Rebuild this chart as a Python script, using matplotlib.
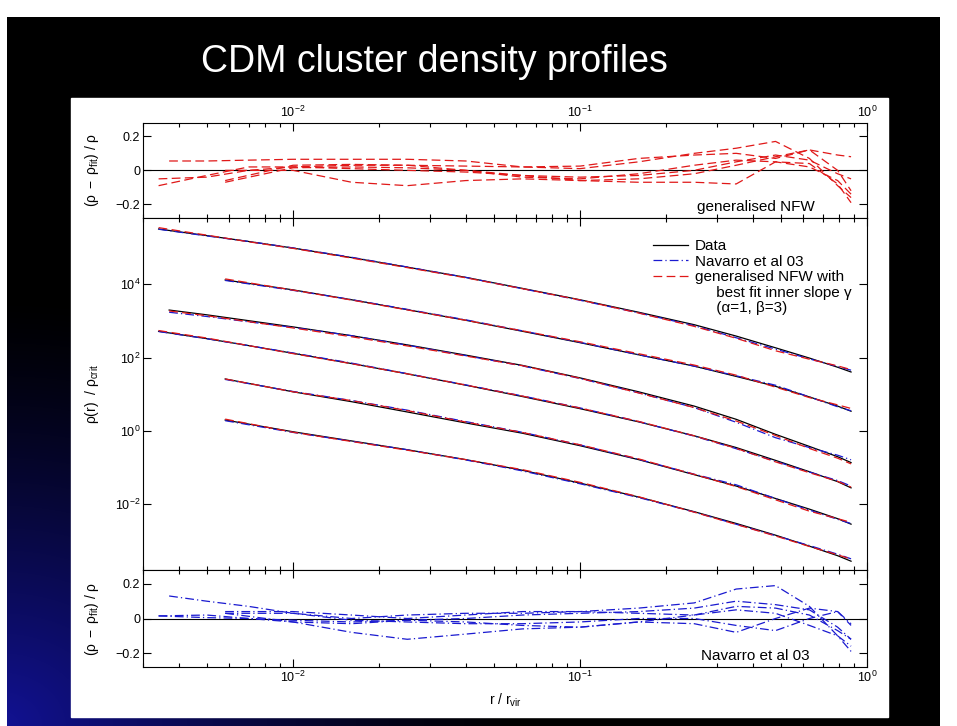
import numpy as np
import matplotlib
matplotlib.use('Agg')
import matplotlib.pyplot as plt
from matplotlib.lines import Line2D
from matplotlib.patches import Rectangle
from matplotlib.ticker import NullLocator

plt.rcParams['font.family'] = ['Liberation Sans', 'DejaVu Sans']
plt.rcParams['mathtext.fontset'] = 'custom'
plt.rcParams['mathtext.rm'] = 'Liberation Sans'
plt.rcParams['mathtext.it'] = 'Liberation Sans'
plt.rcParams['mathtext.bf'] = 'Liberation Sans:bold'

# radii r / r_vir of the six profiles
r_a = [0.0034, 0.005, 0.007, 0.01, 0.016, 0.025, 0.04, 0.063, 0.1, 0.16, 0.25, 0.35, 0.48, 0.63, 0.79, 0.88]
r_b = [0.0037, 0.005, 0.007, 0.01, 0.016, 0.025, 0.04, 0.063, 0.1, 0.16, 0.25, 0.35, 0.48, 0.63, 0.79, 0.88]
r_c = [0.0058, 0.01, 0.016, 0.025, 0.04, 0.063, 0.1, 0.16, 0.25, 0.35, 0.48, 0.63, 0.79, 0.88]

# log10 rho / rho_crit (data)
logrho_1 = [5.51, 5.33, 5.17, 4.99, 4.73, 4.47, 4.19, 3.89, 3.58, 3.24, 2.90, 2.59, 2.27, 1.99, 1.74, 1.61]
logrho_2 = [4.12, 3.85, 3.58, 3.31, 3.02, 2.72, 2.41, 2.08, 1.77, 1.49, 1.22, 0.93, 0.68, 0.54]
logrho_3 = [3.30, 3.17, 3.01, 2.84, 2.60, 2.35, 2.07, 1.79, 1.45, 1.07, 0.68, 0.32, -0.09, -0.42, -0.70, -0.86]
logrho_4 = [2.72, 2.52, 2.33, 2.12, 1.84, 1.56, 1.25, 0.94, 0.61, 0.25, -0.13, -0.45, -0.80, -1.11, -1.38, -1.55]
logrho_5 = [1.42, 1.07, 0.80, 0.52, 0.22, -0.06, -0.40, -0.78, -1.19, -1.50, -1.84, -2.13, -2.39, -2.54]
logrho_6 = [0.30, -0.02, -0.27, -0.51, -0.78, -1.07, -1.42, -1.80, -2.20, -2.52, -2.84, -3.14, -3.40, -3.55]

# residuals (rho - rho_fit) / rho, generalised NFW
res_g1 = [-0.09, -0.03, 0.02, 0.02, 0.03, 0.03, 0.025, 0.02, 0.01, 0.05, 0.10, 0.13, 0.17, 0.07, -0.09, -0.16]
res_g2 = [-0.07, 0.015, 0.02, 0.015, 0.0, -0.03, -0.06, -0.07, -0.07, -0.08, 0.05, 0.04, -0.08, -0.19]
res_g3 = [0.055, 0.055, 0.06, 0.065, 0.065, 0.065, 0.055, 0.02, 0.025, 0.07, 0.09, 0.10, 0.07, 0.12, 0.09, 0.08]
res_g4 = [-0.05, -0.04, 0.0, 0.02, 0.01, 0.0, -0.01, -0.03, -0.04, -0.03, 0.0, 0.05, 0.09, 0.06, -0.02, -0.05]
res_g5 = [0.0, 0.0, -0.07, -0.09, -0.06, -0.05, -0.06, -0.05, -0.02, 0.03, 0.08, 0.12, 0.0, -0.12]
res_g6 = [-0.06, 0.03, 0.035, 0.03, 0.0, -0.04, -0.05, -0.02, 0.03, 0.06, 0.05, 0.02, -0.06, -0.14]

# residuals, Navarro et al 03
res_n1 = [0.015, 0.02, 0.0, -0.01, -0.02, -0.01, 0.0, 0.02, 0.03, 0.04, 0.06, 0.10, 0.08, 0.05, -0.05, -0.12]
res_n2 = [0.03, 0.03, -0.01, -0.02, -0.03, -0.03, -0.02, 0.0, 0.0, -0.04, -0.07, 0.0, 0.04, -0.03]
res_n3 = [0.13, 0.10, 0.07, 0.03, 0.0, 0.02, 0.03, 0.03, 0.04, 0.06, 0.09, 0.17, 0.19, 0.07, -0.10, -0.19]
res_n4 = [0.015, 0.005, 0.0, -0.02, -0.03, -0.01, -0.02, -0.04, -0.05, -0.02, 0.02, 0.07, 0.06, 0.02, -0.07, -0.12]
res_n5 = [0.03, -0.02, -0.08, -0.12, -0.09, -0.06, -0.05, -0.02, -0.03, -0.08, 0.0, 0.06, 0.04, -0.04]
res_n6 = [0.04, 0.04, 0.02, 0.0, 0.02, 0.04, 0.04, 0.03, 0.02, 0.05, 0.03, -0.04, -0.10, -0.16]

profiles = [
    (r_a, logrho_1, res_g1, res_n1),
    (r_c, logrho_2, res_g2, res_n2),
    (r_b, logrho_3, res_g3, res_n3),
    (r_a, logrho_4, res_g4, res_n4),
    (r_c, logrho_5, res_g5, res_n5),
    (r_c, logrho_6, res_g6, res_n6),
]

RED = '#e01818'
BLUE = '#1a1ad0'
DASH = (7, 3.5)
DASHDOT = (7, 2.5, 1, 2.5)

W, H = 957, 726
fig = plt.figure(figsize=(W / 100, H / 100), dpi=100)
fig.patch.set_facecolor('white')

# slide background: black with a blue glow in the lower left
yy, xx = np.mgrid[0:H, 0:W]
d = np.sqrt((xx / 520.0) ** 2 + ((H - yy) / 430.0) ** 2)
t = np.clip(1 - d, 0, 1) ** 1.3
img = np.zeros((H, W, 3))
img[..., 0] = 0.07 * t
img[..., 1] = 0.07 * t
img[..., 2] = 0.58 * t
img[:17, :] = 1
img[:, :7] = 1
img[:, 940:] = 1
bg = fig.add_axes([0, 0, 1, 1], zorder=-10)
bg.imshow(img, aspect='auto', extent=(0, 1, 0, 1))
bg.axis('off')

fig.add_artist(Rectangle((71 / W, 1 - 717 / H), (888 - 71) / W, (717 - 98) / H,
                         transform=fig.transFigure, color='white', zorder=-5))

fig.text(201 / W, 1 - 72 / H, 'CDM cluster density profiles', color='white',
         fontsize=27, ha='left', va='baseline')

left, width = 143 / W, (867 - 143) / W
ax1 = fig.add_axes([left, 1 - 218 / H, width, (218 - 122.7) / H])
ax2 = fig.add_axes([left, 1 - 570 / H, width, (570 - 218) / H])
ax3 = fig.add_axes([left, 1 - 667 / H, width, (667 - 570) / H])

for ax in (ax1, ax2, ax3):
    ax.set_xscale('log')
    ax.set_xlim(0.003, 1)
    ax.tick_params(which='both', direction='in', top=True, bottom=True,
                   left=True, right=True, labelsize=9, width=0.8, pad=2)
    ax.tick_params(which='major', length=5.5)
    ax.tick_params(which='minor', length=3)
    for s in ax.spines.values():
        s.set_linewidth(0.8)

ax1.tick_params(axis='x', which='both', labeltop=True, labelbottom=False)
ax2.tick_params(axis='x', which='both', labeltop=False, labelbottom=False)
ax3.tick_params(axis='x', which='both', labeltop=False, labelbottom=True)

for r, lr, rg, rn in profiles:
    r = np.array(r)
    rho = 10 ** np.array(lr)
    ax2.plot(r, rho, color='black', lw=0.9, zorder=3)
    ax2.plot(r, rho * (1 - np.array(rn)), color=BLUE, lw=0.9, dashes=DASHDOT, zorder=4)
    ax2.plot(r, rho * (1 - np.array(rg)), color=RED, lw=0.9, dashes=DASH, zorder=5)
    ax1.plot(r, rg, color=RED, lw=0.9, dashes=DASH)
    ax3.plot(r, rn, color=BLUE, lw=0.9, dashes=DASHDOT)

ax2.set_yscale('log')
ax2.set_ylim(10 ** -3.79, 10 ** 5.81)
ax2.set_yticks([1e-2, 1, 1e2, 1e4])
ax2.yaxis.set_minor_locator(NullLocator())

for ax in (ax1, ax3):
    ax.set_ylim(-0.28, 0.28)
    ax.set_yticks([-0.2, 0, 0.2])
    ax.set_yticklabels(['\u22120.2', '0', '0.2'])
    ax.axhline(0, color='black', lw=0.8, zorder=1)
    ax.set_ylabel(r'$(\rho\ -\ \rho_{fit})\ /\ \rho$', fontsize=10)
    ax.yaxis.set_label_coords(-0.058, 0.5)

ax2.set_ylabel(r'$\rho(r)\ \ /\ \rho_{crit}$', fontsize=10)
ax2.yaxis.set_label_coords(-0.058, 0.5)
ax3.set_xlabel(r'$r\ /\ r_{vir}$', fontsize=10)
ax3.xaxis.set_label_coords(0.5, -0.25)

ax1.text(0.928, 0.04, 'generalised NFW', transform=ax1.transAxes,
         ha='right', va='bottom', fontsize=11)
ax3.text(0.921, 0.04, 'Navarro et al 03', transform=ax3.transAxes,
         ha='right', va='bottom', fontsize=11)

handles = [
    Line2D([], [], color='black', lw=0.9),
    Line2D([], [], color=BLUE, lw=0.9, dashes=DASHDOT),
    Line2D([], [], color=RED, lw=0.9, dashes=DASH),
    Line2D([], [], color='none'),
    Line2D([], [], color='none'),
]
labels = ['Data', 'Navarro et al 03', 'generalised NFW with',
          '     best fit inner slope \u03b3', '     (\u03b1=1, \u03b2=3)']
ax2.legend(handles, labels, loc='upper left', bbox_to_anchor=(0.704, 0.94),
           frameon=False, fontsize=11, handlelength=2.3, handletextpad=0.45,
           labelspacing=0.1, borderpad=0, borderaxespad=0)

fig.savefig('out.png', dpi=100, facecolor=fig.get_facecolor())
